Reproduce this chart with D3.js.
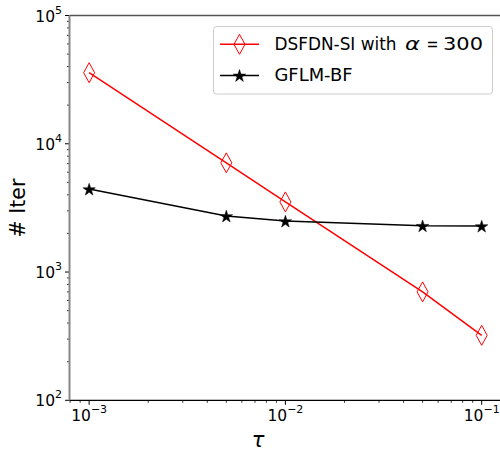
<!DOCTYPE html>
<html><head><meta charset="utf-8">
<script src="https://cdn.jsdelivr.net/npm/d3@7"></script>
<style>
body{margin:0;background:#fff;}
text{font-family:"DejaVu Sans",sans-serif;}
</style></head>
<body><svg id="c" width="500" height="453"></svg>
<script>
const tau = [0.001, 0.005, 0.01, 0.05, 0.1];
const dsfdn = [35800, 7100, 3520, 700, 321];
const gflm = [4440, 2740, 2500, 2300, 2285];
const seriesNames = ["DSFDN-SI with", "GFLM-BF"];
const alphaValue = "300";
const xTickExps = [-3, -2, -1];
const yTickExps = [2, 3, 4, 5];

const svg = d3.select("#c");
const L = 69.5, R = 501.3, T = 15.5, B = 400.3;
const x = d3.scaleLog().domain([Math.pow(10,-3.1), Math.pow(10,-0.9)]).range([L, R]);
const y = d3.scaleLog().domain([100, 100000]).range([B, T]);

// minor ticks
const g = svg.append("g");
const xMinor = [];
for (let e = -4; e <= -1; e++) for (let k = 2; k <= 9; k++) { const v = k*Math.pow(10,e); if (v >= x.domain()[0] && v <= x.domain()[1]) xMinor.push(v); }
const yMinor = [];
for (let e = 2; e <= 4; e++) for (let k = 2; k <= 9; k++) yMinor.push(k*Math.pow(10,e));

g.selectAll(".xm").data(xMinor).enter().append("line")
 .attr("x1", d=>x(d)).attr("x2", d=>x(d)).attr("y1", B).attr("y2", B+2.5).attr("stroke","#000").attr("stroke-width",0.8);
g.selectAll(".ym").data(yMinor).enter().append("line")
 .attr("y1", d=>y(d)).attr("y2", d=>y(d)).attr("x1", L).attr("x2", L-2.5).attr("stroke","#000").attr("stroke-width",0.8);
g.selectAll(".xM").data(xTickExps).enter().append("line")
 .attr("x1", d=>x(Math.pow(10,d))).attr("x2", d=>x(Math.pow(10,d))).attr("y1", B).attr("y2", B+4.5).attr("stroke","#000").attr("stroke-width",1);
g.selectAll(".yM").data(yTickExps).enter().append("line")
 .attr("y1", d=>y(Math.pow(10,d))).attr("y2", d=>y(Math.pow(10,d))).attr("x1", L).attr("x2", L-4.5).attr("stroke","#000").attr("stroke-width",1);

// tick labels
xTickExps.forEach(e => {
  const t = svg.append("text").attr("x", x(Math.pow(10,e))).attr("y", 421).attr("text-anchor","middle").attr("font-size",15.5);
  t.append("tspan").text("10");
  t.append("tspan").attr("dy",-8).attr("font-size",11).text("\u2212" + Math.abs(e));
});
yTickExps.forEach(e => {
  const t = svg.append("text").attr("x", 62).attr("y", y(Math.pow(10,e))+6).attr("text-anchor","end").attr("font-size",15.5);
  t.append("tspan").text("10");
  t.append("tspan").attr("dy",-8).attr("font-size",11).text(String(e));
});

// axis labels
svg.append("text").attr("x", 258).attr("y", 447).attr("text-anchor","middle").attr("font-size",21).attr("font-style","italic").text("\u03c4");
svg.append("text").attr("transform","translate(25,208) rotate(-90)").attr("text-anchor","middle").attr("font-size",20.5).text("# Iter");

// lines
const line = d3.line().x(d=>x(d[0])).y(d=>y(d[1]));
const redPts = tau.map((t,i)=>[t, dsfdn[i]]);
const blkPts = tau.map((t,i)=>[t, gflm[i]]);
svg.append("path").datum(redPts).attr("d", line).attr("fill","none").attr("stroke","#ff0000").attr("stroke-width",1.5);
svg.append("path").datum(blkPts).attr("d", line).attr("fill","none").attr("stroke","#000").attr("stroke-width",1.5);

const diamond = "M0,-10 L5.5,0 L0,10 L-5.5,0 Z";
const star = d3.symbol().type(d3.symbolStar).size(48)();
svg.selectAll(".rd").data(redPts).enter().append("path").attr("d", diamond)
 .attr("transform", d=>`translate(${x(d[0])},${y(d[1])})`).attr("fill","none").attr("stroke","#ff0000").attr("stroke-width",1);
svg.selectAll(".bs").data(blkPts).enter().append("path").attr("d", star)
 .attr("transform", d=>`translate(${x(d[0])},${y(d[1])+0.8})`).attr("fill","#000").attr("stroke","#000").attr("stroke-width",0.5);

// spines
svg.append("line").attr("x1",L).attr("x2",500).attr("y1",T).attr("y2",T).attr("stroke","#555").attr("stroke-width",1.3);
svg.append("line").attr("x1",L).attr("x2",500).attr("y1",B).attr("y2",B).attr("stroke","#000").attr("stroke-width",1.3);
svg.append("line").attr("x1",L).attr("x2",L).attr("y1",T).attr("y2",B).attr("stroke","#888").attr("stroke-width",2);

// legend
const lg = svg.append("g");
lg.append("rect").attr("x",213.5).attr("y",26.5).attr("width",279).attr("height",67.5).attr("rx",3)
 .attr("fill","#fff").attr("fill-opacity",0.8).attr("stroke","#ccc").attr("stroke-width",1);
lg.append("line").attr("x1",220).attr("x2",259).attr("y1",44.3).attr("y2",44.3).attr("stroke","#ff0000").attr("stroke-width",1.5);
lg.append("path").attr("d",diamond).attr("transform","translate(239.5,44.3)").attr("fill","none").attr("stroke","#ff0000");
lg.append("line").attr("x1",220).attr("x2",259).attr("y1",75.5).attr("y2",75.5).attr("stroke","#000").attr("stroke-width",1.5);
lg.append("path").attr("d",star).attr("transform","translate(239.5,76.1)").attr("fill","#000").attr("stroke","#000").attr("stroke-width",0.5);
lg.append("text").attr("x",274.5).attr("y",49.7).attr("font-size",18.2)
 .attr("textLength",122).attr("lengthAdjust","spacingAndGlyphs").text(seriesNames[0]);
lg.append("text").attr("x",405).attr("y",49.7).attr("font-size",18.2).attr("font-style","italic")
 .attr("textLength",15).attr("lengthAdjust","spacingAndGlyphs").text("\u03b1");
lg.append("text").attr("x",426.5).attr("y",49.7).attr("font-size",18.2)
 .attr("textLength",12).attr("lengthAdjust","spacingAndGlyphs").text("=");
lg.append("text").attr("x",443).attr("y",49.7).attr("font-size",18.2)
 .attr("textLength",40).attr("lengthAdjust","spacingAndGlyphs").text(alphaValue);
lg.append("text").attr("x",274.5).attr("y",80.7).attr("font-size",18.2)
 .attr("textLength",78).attr("lengthAdjust","spacingAndGlyphs").text(seriesNames[1]);
</script></body></html>
